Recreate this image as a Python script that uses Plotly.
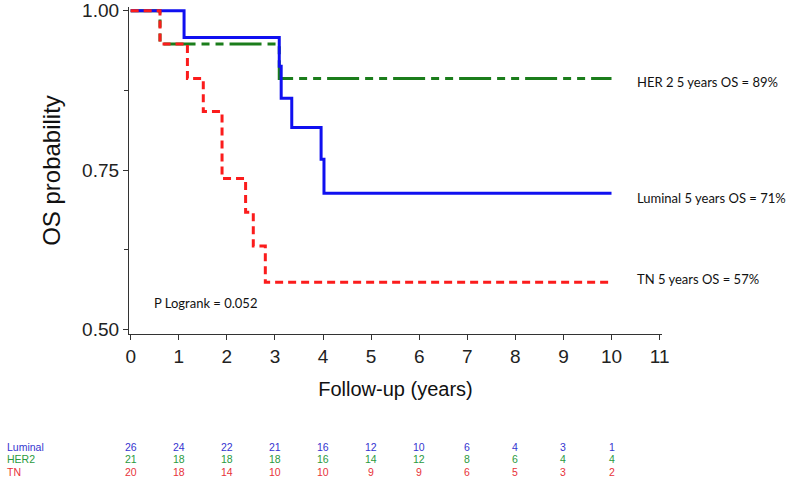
import plotly.graph_objects as go

# ---- data ----
lum_t = [0, 1.11, 3.09, 3.13, 3.35, 3.96, 4.02, 10.0]
lum_s = [1.0, 0.958, 0.913, 0.863, 0.817, 0.767, 0.714, 0.714]
her_t = [0, 0.61, 3.09, 10.0]
her_s = [1.0, 0.948, 0.894, 0.894]
tn_t = [0, 0.61, 1.18, 1.51, 1.90, 2.39, 2.55, 2.80, 10.0]
tn_s = [1.0, 0.948, 0.894, 0.842, 0.737, 0.684, 0.631, 0.574, 0.574]

risk_times = [0, 1, 2, 3, 4, 5, 6, 7, 8, 9, 10]
risk_lum = [26, 24, 22, 21, 16, 12, 10, 6, 4, 3, 1]
risk_her = [21, 18, 18, 18, 16, 14, 12, 8, 6, 4, 4]
risk_tn = [20, 18, 14, 10, 10, 9, 9, 6, 5, 3, 2]
risk_names = ["Luminal", "HER2", "TN"]

end_labels = ["HER 2 5 years OS = 89%", "Luminal 5 years OS = 71%", "TN 5 years OS = 57%"]
end_label_y = [0.889, 0.706, 0.580]
pval_text = "P Logrank = 0.052"

x_ticks = list(range(0, 12))
y_major = [0.50, 0.75, 1.00]
y_minor = [0.625, 0.875]

# ---- styles ----
BLUE, GREEN, RED = "#1010f0", "#1b7d1b", "#fb1c1c"
TBLUE, TGREEN, TRED = "#3535d0", "#2a9a3e", "#e8323a"

fig = go.Figure()
fig.add_trace(go.Scatter(x=her_t, y=her_s, mode="lines", line_shape="hv",
                         line=dict(color=GREEN, width=3, dash="32px,6px,8px,6px,8px,6px"),
                         name="HER2", hoverinfo="skip"))
fig.add_trace(go.Scatter(x=lum_t, y=lum_s, mode="lines", line_shape="hv",
                         line=dict(color=BLUE, width=3),
                         name="Luminal", hoverinfo="skip"))
fig.add_trace(go.Scatter(x=tn_t, y=tn_s, mode="lines", line_shape="hv",
                         line=dict(color=RED, width=3, dash="8px,5px"),
                         name="TN", hoverinfo="skip"))

ann = []
lab_font = dict(family="Lato, Noto Sans, sans-serif", size=13, color="#111")
for txt, yv in zip(end_labels, end_label_y):
    ann.append(dict(x=10.49, y=yv, xref="x", yref="y", text=txt, showarrow=False,
                    xanchor="left", yanchor="middle", font=lab_font))
ann.append(dict(x=0.45, y=0.542, xref="x", yref="y", text=pval_text, showarrow=False,
                xanchor="left", yanchor="middle", font=lab_font))

tfont = "Liberation Sans, Arial, sans-serif"
for name, vals, col, shift in zip(risk_names, [risk_lum, risk_her, risk_tn],
                                  [TBLUE, TGREEN, TRED], [-113, -125, -138]):
    ann.append(dict(x=0, y=0, xref="paper", yref="paper", text=name, showarrow=False,
                    xanchor="left", yanchor="middle", xshift=-124, yshift=shift,
                    font=dict(family=tfont, size=10.5, color=col)))
    for t, v in zip(risk_times, vals):
        ann.append(dict(x=t, y=0, xref="x", yref="paper", text=str(v), showarrow=False,
                        xanchor="center", yanchor="middle", yshift=shift,
                        font=dict(family=tfont, size=10.5, color=col)))

axfont = dict(family="Liberation Sans, Arial, sans-serif", size=19, color="#222")
fig.update_layout(
    width=790, height=482,
    margin=dict(l=129, r=128, t=7, b=148, autoexpand=False),
    paper_bgcolor="white", plot_bgcolor="white",
    showlegend=False,
    annotations=ann,
    xaxis=dict(range=[-0.035, 11.05], tickmode="array", tickvals=x_ticks,
               automargin=False,
               ticks="outside", ticklen=5, tickcolor="#333", tickwidth=1,
               showline=True, linecolor="#333", linewidth=1.3,
               showgrid=False, zeroline=False, tickfont=axfont,
               title=dict(text="Follow-up (years)", standoff=16,
                          font=dict(family="Liberation Sans, Arial, sans-serif", size=20, color="#111"))),
    yaxis=dict(range=[0.493, 1.006], tickmode="array", tickvals=y_major,
               ticktext=["0.50", "0.75", "1.00"], automargin=False,
               ticks="outside", ticklen=5, tickcolor="#333", tickwidth=1,
               minor=dict(tickvals=y_minor, ticks="outside", ticklen=4, tickcolor="#333"),
               showline=True, linecolor="#333", linewidth=1.3,
               showgrid=False, zeroline=False, tickfont=axfont,
               title=dict(text="OS probability", standoff=14,
                          font=dict(family="Liberation Sans, Arial, sans-serif", size=24, color="#111"))),
)

fig.write_html("out.html", config={"displayModeBar": False},
               post_script="document.body.style.margin='0';document.body.style.overflow='hidden';")
